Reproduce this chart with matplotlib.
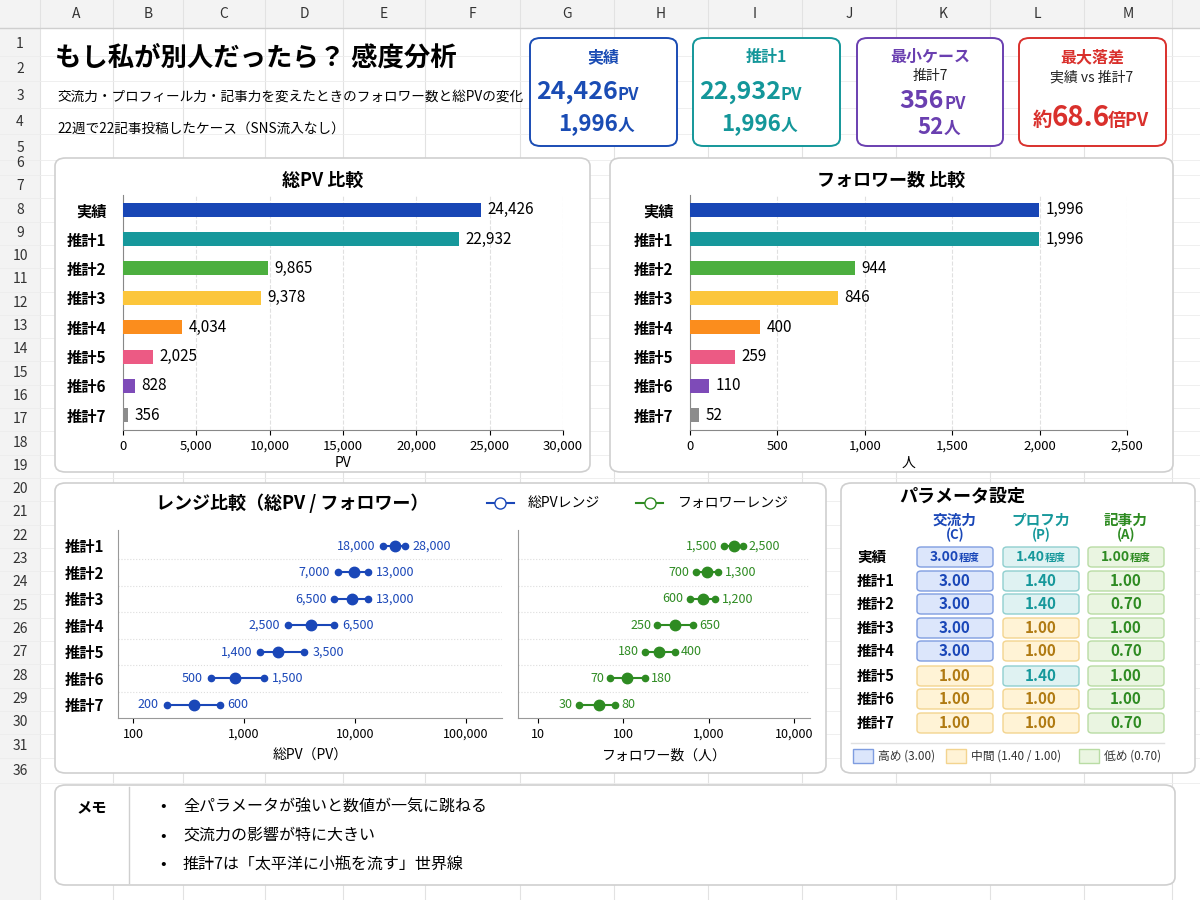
import matplotlib
matplotlib.use("Agg")
import matplotlib.pyplot as plt
from matplotlib.patches import FancyBboxPatch, Rectangle
from matplotlib.ticker import FuncFormatter, FixedLocator

plt.rcParams['font.family'] = ['Noto Sans CJK JP', 'DejaVu Sans']

# ---- data ----
cases = ["実績", "推計1", "推計2", "推計3", "推計4", "推計5", "推計6", "推計7"]
total_pv = [24426, 22932, 9865, 9378, 4034, 2025, 828, 356]
followers = [1996, 1996, 944, 846, 400, 259, 110, 52]
bar_colors = ["#1846b5", "#16989b", "#4caf3f", "#fcc63b", "#fb8d1d", "#ec5a84", "#7e4bb8", "#8c8c8c"]

range_cases = cases[1:]
pv_low = [18000, 7000, 6500, 2500, 1400, 500, 200]
pv_high = [28000, 13000, 13000, 6500, 3500, 1500, 600]
fol_low = [1500, 700, 600, 250, 180, 70, 30]
fol_high = [2500, 1300, 1200, 650, 400, 180, 80]

param_rows = cases
param_c = ["3.00", "3.00", "3.00", "3.00", "3.00", "1.00", "1.00", "1.00"]
param_p = ["1.40", "1.40", "1.40", "1.00", "1.00", "1.40", "1.00", "1.00"]
param_a = ["1.00", "1.00", "0.70", "1.00", "0.70", "1.00", "1.00", "0.70"]

memo = ["全パラメータが強いと数値が一気に跳ねる",
        "交流力の影響が特に大きい",
        "推計7は「太平洋に小瓶を流す」世界線"]

W, H = 1200, 900
fig = plt.figure(figsize=(12, 9), dpi=100)


def fx(x):
    return x / W


def fy(y):
    return 1 - y / H


def ftext(x, y, s, **kw):
    fig.text(fx(x), fy(y), s, **kw)


def fline(xs, ys, z=-3, **kw):
    fig.add_artist(plt.Line2D([fx(v) for v in xs], [fy(v) for v in ys],
                              transform=fig.transFigure, zorder=z, **kw))


def panel(x0, y0, x1, y1, ec="#cfcfcf", lw=1.2, fc="white", r=8):
    fig.patches.append(FancyBboxPatch((fx(x0), fy(y1)), fx(x1 - x0), (y1 - y0) / H,
                                      boxstyle=f"round,pad=0,rounding_size={r / H}",
                                      transform=fig.transFigure, ec=ec, fc=fc, lw=lw, zorder=-1))


def rect(x0, y0, x1, y1, ec, fc, lw=1):
    fig.patches.append(FancyBboxPatch((fx(x0), fy(y1)), fx(x1 - x0), (y1 - y0) / H,
                                      boxstyle=f"round,pad=0,rounding_size={3 / H}",
                                      transform=fig.transFigure, ec=ec, fc=fc, lw=lw, zorder=1))


# ---- spreadsheet grid ----
col_edges = [40, 113, 183, 265, 343, 425, 520, 614, 708, 802, 896, 990, 1084, 1172]
cols = "ABCDEFGHIJKLM"
fig.patches.append(Rectangle((0, fy(28)), 1, 28 / H, transform=fig.transFigure, fc="#f3f3f3", ec="none", zorder=-4))
fig.patches.append(Rectangle((0, 0), fx(40), 1, transform=fig.transFigure, fc="#f3f3f3", ec="none", zorder=-4))
for i, c in enumerate(cols):
    ftext((col_edges[i] + col_edges[i + 1]) / 2, 14, c, ha="center", va="center", fontsize=10, color="#333")
for x in col_edges:
    fline([x, x], [0, H], color="#e2e2e2", lw=0.8)
row_y = [44, 69, 96, 122, 148] + [163 + i * 23.3 for i in range(26)] + [771]
row_lbl = [str(i) for i in range(1, 32)] + ["36"]
for y, s in zip(row_y, row_lbl):
    ftext(20, y, s, ha="center", va="center", fontsize=10, color="#333")
    fline([0, W], [y + 12, y + 12], color="#ececec", lw=0.6)
fline([0, W], [28, 28], color="#cfcfcf", lw=1)

# ---- header ----
ftext(55, 58, "もし私が別人だったら？ 感度分析", fontsize=19, fontweight="bold", va="center")
ftext(57, 97, "交流力・プロフィール力・記事力を変えたときのフォロワー数と総PVの変化", fontsize=9.8, va="center")
ftext(57, 129, "22週で22記事投稿したケース（SNS流入なし）", fontsize=9.8, va="center")

cards = [
    (530, 677, "#1a4cb4", "実績", None, "24,426", "PV", "1,996", "人"),
    (693, 840, "#14979a", "推計1", None, "22,932", "PV", "1,996", "人"),
    (857, 1003, "#6a3fb0", "最小ケース", "推計7", "356", "PV", "52", "人"),
]
for x0, x1, col, t1, t2, v1, u1, v2, u2 in cards:
    panel(x0, 38, x1, 146, ec=col, lw=1.4)
    cx = (x0 + x1) / 2 + 14
    ftext(cx - 14, 57, t1, ha="center", va="center", fontsize=11.5, fontweight="bold", color=col)
    if t2:
        ftext(cx - 14, 76, t2, ha="center", va="center", fontsize=10, color="#222")
        y1, y2 = 101, 127
    else:
        y1, y2 = 92, 124
    ftext(cx, y1, v1, ha="right", va="center", fontsize=18, fontweight="bold", color=col)
    ftext(cx, y1 + 3, u1, ha="left", va="center", fontsize=12, fontweight="bold", color=col)
    ftext(cx, y2, v2, ha="right", va="center", fontsize=16, fontweight="bold", color=col)
    ftext(cx, y2 + 2, u2, ha="left", va="center", fontsize=12, fontweight="bold", color=col)
panel(1019, 38, 1166, 146, ec="#d9302c", lw=1.4)
ftext(1092, 57, "最大落差", ha="center", va="center", fontsize=11.5, fontweight="bold", color="#d9302c")
ftext(1092, 77, "実績 vs 推計7", ha="center", va="center", fontsize=10, color="#222")
ftext(1052, 121, "約", ha="right", va="center", fontsize=14, fontweight="bold", color="#d9302c")
ftext(1052, 118, "68.6", ha="left", va="center", fontsize=20, fontweight="bold", color="#d9302c")
ftext(1108, 121, "倍PV", ha="left", va="center", fontsize=13, fontweight="bold", color="#d9302c")


# ---- bar panels ----
def bar_panel(px0, px1, ax_x0, ax_x1, title, vals, xmax, step, xlabel):
    panel(px0, 158, px1, 472)
    ftext((px0 + px1) / 2, 180, title, ha="center", va="center", fontsize=13, fontweight="bold")
    ax = fig.add_axes([fx(ax_x0), fy(430), fx(ax_x1 - ax_x0), (430 - 195) / H])
    y = list(range(len(cases)))
    ax.barh(y, vals, color=bar_colors, height=0.48, zorder=3)
    for yi, v in zip(y, vals):
        ax.text(v + xmax * 0.015, yi, f"{v:,}", va="center", fontsize=11)
    ax.set_yticks(y, cases, fontsize=11, fontweight="bold")
    ax.set_xlim(0, xmax)
    ax.set_ylim(len(cases) - 0.5, -0.5)
    ax.set_xticks(range(0, xmax + 1, step))
    ax.xaxis.set_major_formatter(FuncFormatter(lambda v, p: f"{int(v):,}"))
    ax.tick_params(axis="x", labelsize=9.5)
    ax.tick_params(axis="y", length=0, pad=12)
    ax.grid(axis="x", color="#e0e0e0", ls="--", lw=0.8, zorder=0)
    for s in ["top", "right"]:
        ax.spines[s].set_visible(False)
    ax.spines["left"].set_color("#888")
    ax.spines["bottom"].set_color("#888")
    ax.set_xlabel(xlabel, fontsize=10, labelpad=2)


bar_panel(55, 590, 123, 563, "総PV 比較", total_pv, 30000, 5000, "PV")
bar_panel(610, 1173, 690, 1127, "フォロワー数 比較", followers, 2500, 500, "人")

# ---- range panel ----
panel(55, 483, 826, 773)
ftext(292, 503, "レンジ比較（総PV / フォロワー）", ha="center", va="center", fontsize=13, fontweight="bold")
blue, green = "#1a47b8", "#2e8b22"
fline([487, 500.5, 514], [503, 503, 503], z=2, color=blue, lw=1.5, marker="o", markevery=[1], mfc="white", ms=8)
ftext(528, 503, "総PVレンジ", va="center", fontsize=10)
fline([636, 649.5, 663], [503, 503, 503], z=2, color=green, lw=1.5, marker="o", markevery=[1], mfc="white", ms=8)
ftext(678, 503, "フォロワーレンジ", va="center", fontsize=10)

yr = list(range(len(range_cases)))
axl = fig.add_axes([fx(118), fy(718), fx(502 - 118), (718 - 530) / H])
axr = fig.add_axes([fx(518), fy(718), fx(810 - 518), (718 - 530) / H])
for ax, lo, hi, mid, col, xl, ticks, lab in [
        (axl, pv_low, pv_high, total_pv[1:], blue, (73, 211000), [100, 1000, 10000, 100000], "総PV（PV）"),
        (axr, fol_low, fol_high, followers[1:], green, (5.8, 15400), [10, 100, 1000, 10000], "フォロワー数（人）")]:
    for yi, a, b, m in zip(yr, lo, hi, mid):
        ax.plot([a, b], [yi, yi], color=col, lw=1.5, zorder=3)
        ax.plot([a, b], [yi, yi], "o", color=col, ms=4.5, zorder=4)
        ax.plot([m], [yi], "o", color=col, ms=7.5, zorder=4)
        ax.text(a / 1.18, yi, f"{a:,}", ha="right", va="center", fontsize=9, color=col)
        ax.text(b * 1.18, yi, f"{b:,}", ha="left", va="center", fontsize=9, color=col)
    ax.set_xscale("log")
    ax.set_xlim(*xl)
    ax.set_ylim(len(yr) - 0.5, -0.6)
    ax.xaxis.set_major_locator(FixedLocator(ticks))
    ax.xaxis.set_minor_locator(FixedLocator([]))
    ax.xaxis.set_major_formatter(FuncFormatter(lambda v, p: f"{int(v):,}"))
    ax.tick_params(axis="x", labelsize=9)
    ax.set_yticks([y + 0.5 for y in yr[:-1]], minor=True)
    ax.tick_params(axis="y", which="minor", length=0)
    ax.grid(axis="y", which="minor", color="#dddddd", ls=":", lw=0.8)
    for s in ["top", "right"]:
        ax.spines[s].set_visible(False)
    ax.spines["left"].set_color("#999")
    ax.spines["bottom"].set_color("#999")
    ax.set_xlabel(lab, fontsize=10, labelpad=6)
axl.set_yticks(yr, range_cases, fontsize=11, fontweight="bold")
axl.tick_params(axis="y", length=0, pad=10)
axr.set_yticks([])

# ---- parameter panel ----
panel(841, 483, 1195, 773)
ftext(962, 496, "パラメータ設定", ha="center", va="center", fontsize=13, fontweight="bold")
col_x = [955, 1041, 1126]
head_cols = ["#1a47b8", "#16989b", "#2e8b22"]
heads = [("交流力", "(C)"), ("プロフ力", "(P)"), ("記事力", "(A)")]
for x, (h1, h2), c in zip(col_x, heads, head_cols):
    ftext(x, 520, h1, ha="center", va="center", fontsize=10.5, fontweight="bold", color=c)
    ftext(x, 535, h2, ha="center", va="center", fontsize=9.5, fontweight="bold", color=c)
styles = {"3.00": ("#7f9de0", "#dce6fb", "#1a47b8"),
          "1.40": ("#8fcfcf", "#dff2f2", "#16989b"),
          "1.00": ("#f3d48f", "#fff3d6", "#b07a12"),
          "0.70": ("#b9dca4", "#eaf5e1", "#2e8b22")}
row_ys = [557, 581, 604, 628, 651, 676, 699, 723]
for i, (name, y) in enumerate(zip(param_rows, row_ys)):
    ftext(857, y, name, va="center", fontsize=10.5, fontweight="bold")
    for j, v in enumerate([param_c[i], param_p[i], param_a[i]]):
        key = v
        if j == 2 and v == "1.00":
            key = "0.70"
        ec, fc, tc = styles[key]
        x = col_x[j]
        rect(x - 38, y - 10, x + 38, y + 10, ec, fc)
        if i == 0:
            ftext(x + 4, y, v, ha="right", va="center", fontsize=10, fontweight="bold", color=tc)
            ftext(x + 4, y + 1, "程度", ha="left", va="center", fontsize=7.5, fontweight="bold", color=tc)
        else:
            ftext(x, y, v, ha="center", va="center", fontsize=11, fontweight="bold", color=tc)
fline([851, 1164], [743, 743], z=2, color="#e0e0e0", lw=1)
for x, key, lab in [(853, "3.00", "高め (3.00)"), (946, "1.00", "中間 (1.40 / 1.00)"), (1079, "0.70", "低め (0.70)")]:
    ec, fc, _ = styles[key]
    fig.patches.append(Rectangle((fx(x), fy(763)), fx(20), 14 / H, transform=fig.transFigure, ec=ec, fc=fc, lw=1, zorder=1))
    ftext(x + 25, 756, lab, va="center", fontsize=8.5, color="#333")

# ---- memo ----
panel(55, 785, 1175, 885)
fline([129, 129], [787, 883], z=2, color="#cfcfcf", lw=1)
ftext(92, 807, "メモ", ha="center", va="center", fontsize=11, fontweight="bold")
for k, s in enumerate(memo):
    y = 807 + k * 29
    ftext(160, y, "•", va="center", fontsize=12)
    ftext(183, y, s, va="center", fontsize=11.5)

fig.savefig("out.png", dpi=100, facecolor="white")
